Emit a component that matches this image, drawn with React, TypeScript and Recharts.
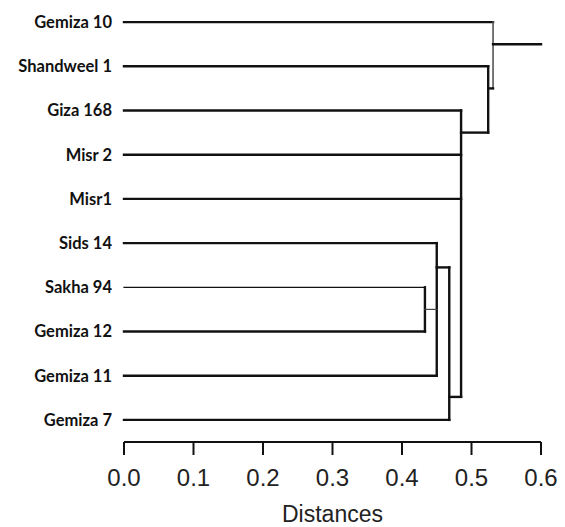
import { ComposedChart, XAxis, YAxis, ReferenceLine, Scatter, Label } from 'recharts'

const CULTIVARS = ['Gemiza 10', 'Shandweel 1', 'Giza 168', 'Misr 2', 'Misr1', 'Sids 14', 'Sakha 94', 'Gemiza 12', 'Gemiza 11', 'Gemiza 7']
// distance at which each leaf joins its cluster
const LEAF_HEIGHT = [0.531, 0.524, 0.485, 0.485, 0.485, 0.45, 0.433, 0.433, 0.45, 0.468]

// cluster nodes: height, vertical span (row positions), link row to the parent
const MERGE_HEIGHT = [0.433, 0.45, 0.468, 0.485, 0.524, 0.531]
const MERGE_TOP = [6, 5, 5.55, 2, 1, 0]
const MERGE_BOTTOM = [7, 8, 9, 8.48, 2.5, 1.5]
const LINK_ROW = [6.5, 5.55, 8.48, 2.5, 1.5, 0.5]
const ROOT_END = 0.6

const X_TICKS = [0, 0.1, 0.2, 0.3, 0.4, 0.5, 0.6]

const THIN_LEAVES = ['Sakha 94']

export default function App() {
  const rows = CULTIVARS.map((_, i) => i)
  const leafPoints = CULTIVARS.map((name, i) => ({ x: LEAF_HEIGHT[i], y: i, name }))

  return (
    <div style={{ position: 'absolute', left: 0, top: 0, background: '#fff' }}>
      <ComposedChart width={565} height={527} margin={{ top: 0, right: 24, bottom: 0, left: 0 }}>
        <XAxis
          type="number"
          dataKey="x"
          domain={[0, 0.6]}
          ticks={X_TICKS}
          tickFormatter={(v: number) => v.toFixed(1)}
          height={85}
          axisLine={{ stroke: '#111', strokeWidth: 2 }}
          tickLine={{ stroke: '#111', strokeWidth: 2 }}
          tickSize={13}
          tickMargin={14}
          tick={{ fill: '#222', fontSize: 24, fontFamily: 'Liberation Sans, Arial, sans-serif' }}
        >
          <Label
            value="Distances"
            position="insideBottom"
            offset={5}
            style={{ fill: '#222', fontSize: 23, fontFamily: 'Liberation Sans, Arial, sans-serif' }}
          />
        </XAxis>
        <YAxis
          type="number"
          dataKey="y"
          domain={[-0.5, 9.5]}
          reversed
          ticks={rows}
          interval={0}
          width={124}
          axisLine={false}
          tickLine={false}
          tickSize={0}
          tickMargin={12}
          tickFormatter={(i: number) => CULTIVARS[i] ?? ''}
          tick={{ fill: '#111', fontSize: 16.5, fontWeight: 700, fontFamily: 'Lato, sans-serif' }}
        />
        <Scatter data={leafPoints} shape={() => <g />} isAnimationActive={false} />

        {CULTIVARS.map((name, i) => (
          <ReferenceLine
            key={'leaf-' + name}
            segment={[{ x: 0, y: i }, { x: LEAF_HEIGHT[i], y: i }]}
            stroke="#111"
            strokeWidth={THIN_LEAVES.includes(name) ? 1.2 : 2.4}
            strokeLinecap="square"
            ifOverflow="visible"
          />
        ))}

        {MERGE_HEIGHT.map((h, i) => (
          <ReferenceLine
            key={'node-' + i}
            segment={[{ x: h, y: MERGE_TOP[i] }, { x: h, y: MERGE_BOTTOM[i] }]}
            stroke={i === 5 ? '#555' : '#111'}
            strokeWidth={i === 5 ? 1.6 : 2.4}
            strokeLinecap="square"
            ifOverflow="visible"
          />
        ))}

        {MERGE_HEIGHT.map((h, i) => (
          <ReferenceLine
            key={'link-' + i}
            segment={[{ x: h, y: LINK_ROW[i] }, { x: MERGE_HEIGHT[i + 1] ?? ROOT_END, y: LINK_ROW[i] }]}
            stroke={i === 0 ? '#444' : '#111'}
            strokeWidth={i === 0 ? 1.2 : 2.4}
            strokeLinecap="square"
            ifOverflow="visible"
          />
        ))}
      </ComposedChart>
    </div>
  )
}
